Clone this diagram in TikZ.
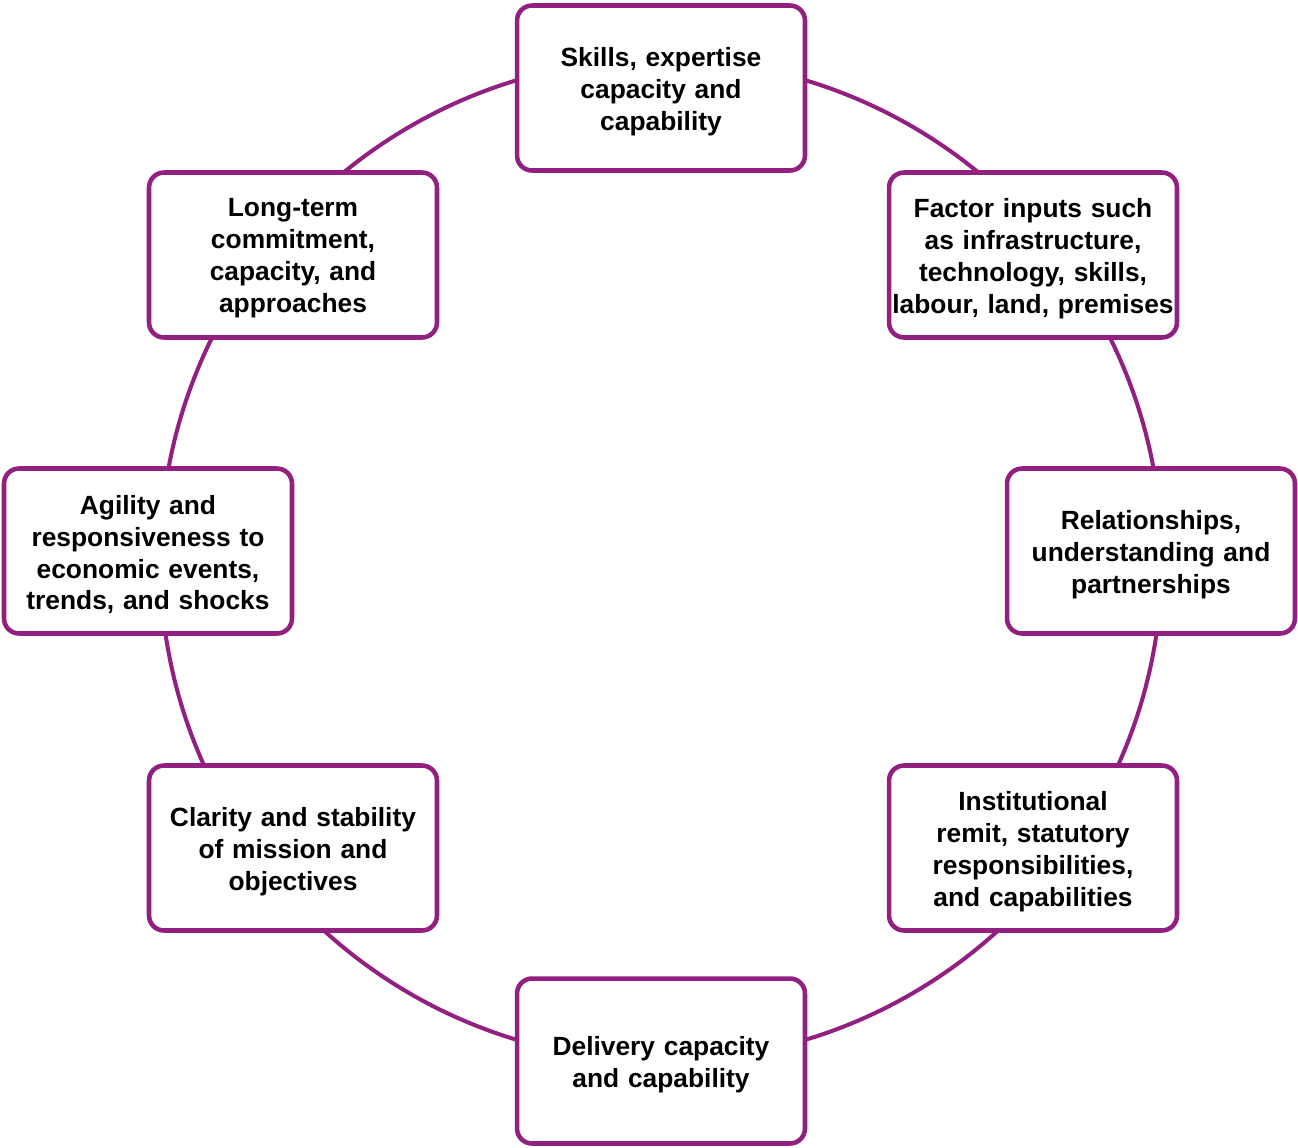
\documentclass[tikz,border=0pt]{standalone}
\usepackage{fontspec}
\setsansfont{Liberation Sans}
\usepackage{tikz}
\usetikzlibrary{positioning}

\definecolor{plum}{RGB}{146,32,128}

\tikzset{
	factor/.style={draw=plum, line width=2.6pt, fill=white, rounded corners=0.3cm,
		minimum width=5.76cm, minimum height=3.3cm, text width=5.76cm, align=center,
		inner sep=0pt, execute at end node={\par\vspace*{-0.14cm}}},
	ring/.style={draw=plum, line width=2.3pt}
}

\begin{document}
\begin{tikzpicture}[x=0.02cm, y=-0.02cm, font=\sffamily\bfseries\fontsize{15}{18.2}\selectfont]
	\def\R{10.02cm}
	\useasboundingbox (0,0) rectangle (1298,1147);
	
	\coordinate (hub) at (661,560);
	\draw[ring] (hub) circle (\R);
	
	\node[factor] (skills)    at (661,88)   {Skills, expertise\\capacity and\\capability};
	\node[factor] (inputs)    at (1033,255) {Factor inputs such\\as infrastructure,\\technology, skills,\\labour, land, premises};
	\node[factor] (relations) at (1151,551) {Relationships,\\understanding and\\partnerships};
	\node[factor] (remit)     at (1033,848) {Institutional\\remit, statutory\\responsibilities,\\and capabilities};
	\node[factor] (delivery)  at (661,1061) {Delivery capacity\\and capability};
	\node[factor] (mission)   at (293,848)  {Clarity and stability\\of mission and\\objectives};
	\node[factor] (agility)   at (148,551)  {Agility and\\responsiveness to\\economic events,\\trends, and shocks};
	\node[factor] (longterm)  at (293,255)  {Long-term\\commitment,\\capacity, and\\approaches};
\end{tikzpicture}
\end{document}
